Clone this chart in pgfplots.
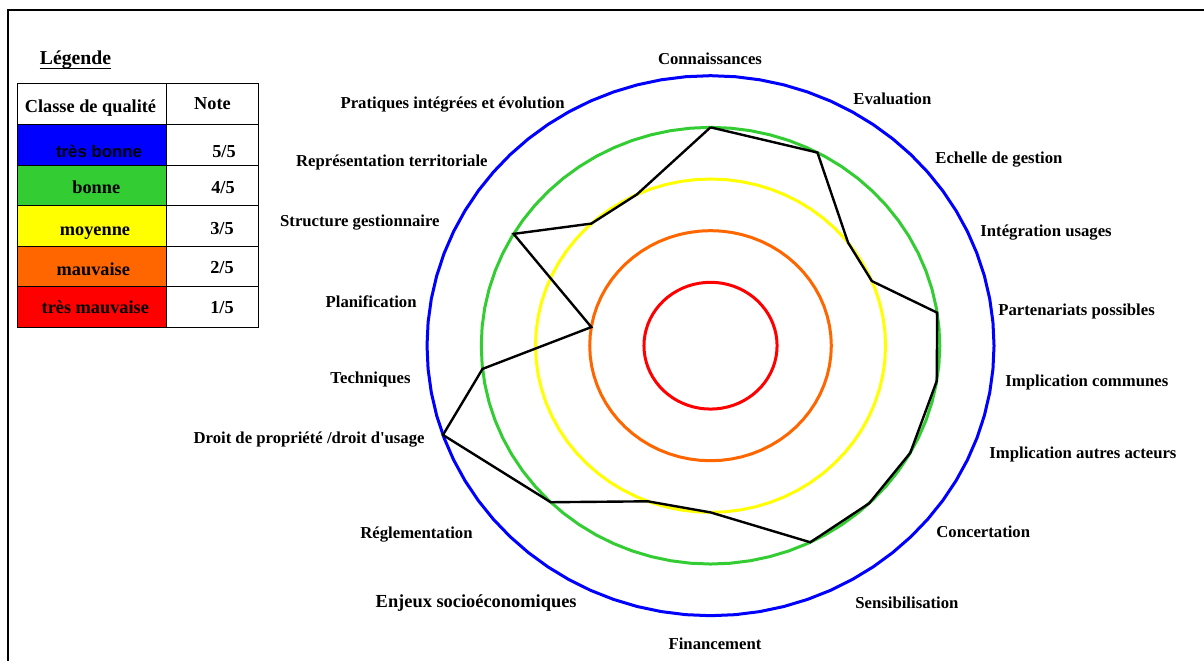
\documentclass[border=0pt]{standalone}
\usepackage{pgfplots}
\pgfplotsset{compat=1.18}
\usepackage{pgfplotstable}
\usepgfplotslibrary{polar}
\usepackage{fontspec}
\setmainfont{Liberation Serif}
\newfontfamily\arialfont{Liberation Sans}
\definecolor{cblue}{RGB}{0,0,255}
\definecolor{cgreen}{RGB}{51,204,51}
\definecolor{cyellow}{RGB}{255,255,0}
\definecolor{corange}{RGB}{255,102,0}
\definecolor{cred}{RGB}{255,0,0}

% angle (polar, counter-clockwise from east) and score out of 5
\pgfplotstableread{
angle value name
90     4 Connaissances
62.2   4 Evaluation
38.2   3 Echelle_de_gestion
22.8   3 Integration_usages
8.7    4 Partenariats_possibles
-9.3   4 Implication_communes
-29.4  4 Implication_autres_acteurs
-46.2  4 Concertation
-64.2  4 Sensibilisation
-90    3 Financement
-111   3 Enjeux_socioeconomiques
-134.2 4 Reglementation
-160.7 5 Droit_de_propriete
-173.9 4 Techniques
-189.3 2 Planification
-210.8 4 Structure_gestionnaire
-227.1 3 Representation_territoriale
-245.1 3 Pratiques_integrees
-270   4 Connaissances
}\radar

% quality rings (1/5 ... 5/5)
\pgfplotstableread{
a r1 r2 r3 r4 r5
0 1 2 3 4 5
5 1 2 3 4 5
10 1 2 3 4 5
15 1 2 3 4 5
20 1 2 3 4 5
25 1 2 3 4 5
30 1 2 3 4 5
35 1 2 3 4 5
40 1 2 3 4 5
45 1 2 3 4 5
50 1 2 3 4 5
55 1 2 3 4 5
60 1 2 3 4 5
65 1 2 3 4 5
70 1 2 3 4 5
75 1 2 3 4 5
80 1 2 3 4 5
85 1 2 3 4 5
90 1 2 3 4 5
95 1 2 3 4 5
100 1 2 3 4 5
105 1 2 3 4 5
110 1 2 3 4 5
115 1 2 3 4 5
120 1 2 3 4 5
125 1 2 3 4 5
130 1 2 3 4 5
135 1 2 3 4 5
140 1 2 3 4 5
145 1 2 3 4 5
150 1 2 3 4 5
155 1 2 3 4 5
160 1 2 3 4 5
165 1 2 3 4 5
170 1 2 3 4 5
175 1 2 3 4 5
180 1 2 3 4 5
185 1 2 3 4 5
190 1 2 3 4 5
195 1 2 3 4 5
200 1 2 3 4 5
205 1 2 3 4 5
210 1 2 3 4 5
215 1 2 3 4 5
220 1 2 3 4 5
225 1 2 3 4 5
230 1 2 3 4 5
235 1 2 3 4 5
240 1 2 3 4 5
245 1 2 3 4 5
250 1 2 3 4 5
255 1 2 3 4 5
260 1 2 3 4 5
265 1 2 3 4 5
270 1 2 3 4 5
275 1 2 3 4 5
280 1 2 3 4 5
285 1 2 3 4 5
290 1 2 3 4 5
295 1 2 3 4 5
300 1 2 3 4 5
305 1 2 3 4 5
310 1 2 3 4 5
315 1 2 3 4 5
320 1 2 3 4 5
325 1 2 3 4 5
330 1 2 3 4 5
335 1 2 3 4 5
340 1 2 3 4 5
345 1 2 3 4 5
350 1 2 3 4 5
355 1 2 3 4 5
360 1 2 3 4 5
365 1 2 3 4 5
}\rings

\begin{document}
\begin{tikzpicture}[x=0.5bp,y=0.5bp,
  lab/.style={font=\fontsize{8.35bp}{10bp}\selectfont\bfseries, inner sep=0pt, text height=0.68em, text depth=0pt},
  leg/.style={font=\fontsize{9.15bp}{11bp}\selectfont\bfseries, inner sep=0pt, text height=0.68em, text depth=0pt},
  cell/.style={draw=black, line width=0.5bp}]
% frame
\draw[line width=1bp, black] (8,0) -- (8,651) -- (1204,651);
% legend
\node[font=\fontsize{9.85bp}{12bp}\selectfont\bfseries, anchor=base, inner sep=0pt] (lg) at (75.5,596) {Légende};
\draw[line width=0.6bp] ([yshift=-1.6bp]lg.base west) -- ([yshift=-1.6bp]lg.base east);
\draw[cell, fill=white] (17,577) rectangle (166,536);
\draw[cell, fill=white] (166,577) rectangle (258,536);
\draw[cell, fill=cblue]   (17,536) rectangle (166,495.5);
\draw[cell, fill=cgreen]  (17,495.5) rectangle (166,455);
\draw[cell, fill=cyellow] (17,455) rectangle (166,414.5);
\draw[cell, fill=corange] (17,414.5) rectangle (166,374);
\draw[cell, fill=cred]    (17,374) rectangle (166,333.5);
\draw[cell] (166,536) rectangle (258,495.5);
\draw[cell] (166,495.5) rectangle (258,455);
\draw[cell] (166,455) rectangle (258,414.5);
\draw[cell] (166,414.5) rectangle (258,374);
\draw[cell] (166,374) rectangle (258,333.5);
\node[leg] at (90.5,555) {Classe de qualité};
\node[leg] at (212.5,558) {Note};
\node[font=\fontsize{8.4bp}{10bp}\selectfont\arialfont\bfseries, inner sep=0pt, text height=0.72em, text depth=0pt] at (99,511) {très bonne};
\node[leg] at (96.3,474) {bonne};
\node[leg] at (95,432) {moyenne};
\node[leg] at (93.3,392) {mauvaise};
\node[leg] at (95.3,354.3) {très mauvaise};
\node[leg] at (224,510) {5/5};
\node[leg] at (223,474) {4/5};
\node[leg] at (222,433) {3/5};
\node[leg] at (222,394) {2/5};
\node[leg] at (222,354.3) {1/5};
% category labels
\node[lab, anchor=center] at (710,603) {Connaissances};
\node[lab, anchor=west] at (853,563) {Evaluation};
\node[lab, anchor=west] at (935,504) {Echelle de gestion};
\node[lab, anchor=west] at (980,431) {Intégration usages};
\node[lab, anchor=west] at (998,352) {Partenariats possibles};
\node[lab, anchor=west] at (1005,281) {Implication communes};
\node[lab, anchor=west] at (989,209) {Implication autres acteurs};
\node[lab, anchor=west] at (936,130) {Concertation};
\node[lab, anchor=west] at (855,59) {Sensibilisation};
\node[lab, anchor=center] at (715,18) {Financement};
\node[lab, anchor=east, font=\fontsize{9.2bp}{11bp}\selectfont\bfseries] at (577,60) {Enjeux socioéconomiques};
\node[lab, anchor=east] at (473,129) {Réglementation};
\node[lab, anchor=east] at (425,224) {Droit de propriété /droit d\textquotesingle usage};
\node[lab, anchor=east] at (411,284) {Techniques};
\node[lab, anchor=east] at (417,360) {Planification};
\node[lab, anchor=east] at (440,441) {Structure gestionnaire};
\node[lab, anchor=east] at (488,501) {Représentation territoriale};
\node[lab, anchor=east] at (565,559) {Pratiques intégrées et évolution};

\begin{polaraxis}[
  at={(355.25bp,157.65bp)}, anchor=center,
  scale only axis, width=283.5bp, height=270bp,
  hide axis, clip=false,
  ymin=-0.227, ymax=5,
  y coord trafo/.code={\pgfmathparse{#1+0.227}},
  y coord inv trafo/.code={\pgfmathparse{#1-0.227}},
]
\addplot[cred, line width=1.5bp, line join=round, no markers] table[x=a, y=r1] {\rings};
\addplot[corange, line width=1.5bp, line join=round, no markers] table[x=a, y=r2] {\rings};
\addplot[cyellow, line width=1.5bp, line join=round, no markers] table[x=a, y=r3] {\rings};
\addplot[cgreen, line width=1.5bp, line join=round, no markers] table[x=a, y=r4] {\rings};
\addplot[cblue, line width=1.5bp, line join=round, no markers] table[x=a, y=r5] {\rings};
\addplot[black, line width=1.2bp, line join=miter, no markers] table[x=angle, y=value] {\radar};
\end{polaraxis}
\pgfresetboundingbox
\useasboundingbox (0,0) rectangle (1204,661);
\end{tikzpicture}
\end{document}
